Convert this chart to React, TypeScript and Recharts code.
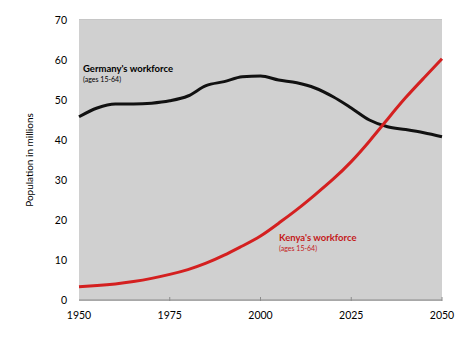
import React from "react";
import { LineChart, Line, XAxis, YAxis, CartesianGrid, ReferenceArea, Label } from "recharts";

const years = [1950, 1955, 1960, 1965, 1970, 1975, 1980, 1985, 1990, 1995, 2000, 2005, 2010, 2015, 2020, 2025, 2030, 2035, 2040, 2045, 2050];
const germany = [45.8, 48, 49, 49, 49.2, 49.8, 51, 53.6, 54.6, 55.8, 56, 55, 54.3, 53, 50.8, 48, 45, 43.3, 42.6, 41.8, 40.8];
const kenya = [3.3, 3.6, 4.0, 4.6, 5.4, 6.4, 7.6, 9.2, 11.2, 13.5, 16, 19.2, 22.6, 26.3, 30.2, 34.6, 39.7, 45.2, 50.6, 55.5, 60.3];
const xTicks = [1950, 1975, 2000, 2025, 2050];
const yTicks = [0, 10, 20, 30, 40, 50, 60, 70];

const data = years.map((year, i) => ({ year, germany: germany[i], kenya: kenya[i] }));

const FONT = "Lato, 'Open Sans', sans-serif";

const XTick = (props: any) => {
  const { x, y, payload } = props;
  return (
    <g>
      {payload.value !== 1950 && (
        <line x1={x} x2={x} y1={y - 15} y2={y - 11} stroke="#8c8c8c" strokeWidth={1} />
      )}
      <text x={x} y={y} dy="0.71em" textAnchor="middle" fill="#000" fontSize={10.5} fontFamily={FONT}>
        {payload.value}
      </text>
    </g>
  );
};

const App: React.FC = () => {
  return (
    <div style={{ position: "absolute", left: 0, top: 0, width: 465, height: 349, background: "#fff", fontFamily: FONT }}>
      <LineChart width={465} height={349} data={data} margin={{ top: 20, right: 23, left: 0, bottom: 19 }}>
        <ReferenceArea x1={1950} x2={2050} y1={0} y2={70} fill="#d0d0d0" fillOpacity={1} stroke="none" />
        <CartesianGrid vertical={false} stroke="#8c8c8c" strokeWidth={1} />
        <XAxis
          type="number"
          dataKey="year"
          domain={[1950, 2050]}
          ticks={xTicks}
          tickLine={false}
          tickSize={0}
          tickMargin={12}
          height={30}
          stroke="#8c8c8c"
          tick={<XTick />}
          interval={0}
        />
        <YAxis
          type="number"
          domain={[0, 70]}
          ticks={yTicks}
          width={79}
          axisLine={false}
          tickLine={false}
          tickSize={0}
          tickMargin={12}
          interval={0}
          tick={{ fill: "#000", fontSize: 10.5, fontFamily: FONT }}
        >
          <Label
            value="Population in millions"
            angle={-90}
            position="insideLeft"
            offset={29}
            style={{ textAnchor: "middle", fill: "#000", fontSize: 10, fontFamily: FONT }}
          />
        </YAxis>
        <Line type="monotone" dataKey="germany" stroke="#111" strokeWidth={3} dot={false} activeDot={false} isAnimationActive={false} />
        <Line type="natural" dataKey="kenya" stroke="#d42020" strokeWidth={3} dot={false} activeDot={false} isAnimationActive={false} />
      </LineChart>
      <div style={{ position: "absolute", left: 83, top: 64, color: "#000", lineHeight: 1 }}>
        <div style={{ fontSize: 9.5, fontWeight: 700 }}>Germany's workforce</div>
        <div style={{ fontSize: 7, marginTop: 2 }}>(ages 15-64)</div>
      </div>
      <div style={{ position: "absolute", left: 279, top: 233, color: "#c41a1a", lineHeight: 1 }}>
        <div style={{ fontSize: 9.5, fontWeight: 700 }}>Kenya's workforce</div>
        <div style={{ fontSize: 7, marginTop: 2 }}>(ages 15-64)</div>
      </div>
    </div>
  );
};

export default App;
